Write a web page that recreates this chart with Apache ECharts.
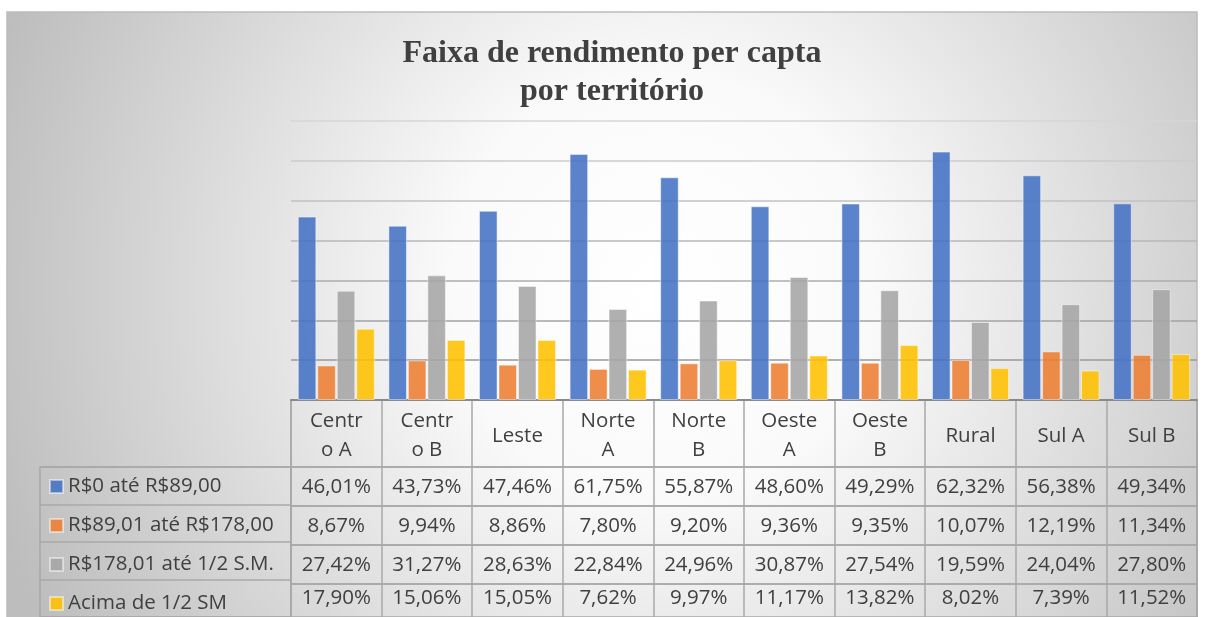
<!DOCTYPE html>
<html>
<head>
<meta charset="utf-8">
<script src="https://cdn.jsdelivr.net/npm/echarts@6/dist/echarts.min.js"></script>
<style>
html,body{margin:0;padding:0;background:#fff;}
#chart{width:1207px;height:617px;}
</style>
</head>
<body>
<div id="chart"></div>
<script>
const categories = ['Centro A','Centro B','Leste','Norte A','Norte B','Oeste A','Oeste B','Rural','Sul A','Sul B'];
const headerLabels = ['Centr\no A','Centr\no B','Leste','Norte\nA','Norte\nB','Oeste\nA','Oeste\nB','Rural','Sul A','Sul B'];
const seriesNames = ['R$0 até R$89,00','R$89,01 até R$178,00','R$178,01 até 1/2 S.M.','Acima de 1/2 SM'];
const faixa1 = [46.01,43.73,47.46,61.75,55.87,48.60,49.29,62.32,56.38,49.34];
const faixa2 = [8.67,9.94,8.86,7.80,9.20,9.36,9.35,10.07,12.19,11.34];
const faixa3 = [27.42,31.27,28.63,22.84,24.96,30.87,27.54,19.59,24.04,27.80];
const faixa4 = [17.90,15.06,15.05,7.62,9.97,11.17,13.82,8.02,7.39,11.52];
const yTicks = [0,10,20,30,40,50,60,70];

const allSeries = [faixa1, faixa2, faixa3, faixa4];
const colors = ['#4472C4','#ED7D31','#A5A5A5','#FFC000'];
const fmt = v => v.toFixed(2).replace('.', ',') + '%';

const FONT = 'Open Sans';
const FS = 20.5;
const TXT = '#404040';
const BORDER = '#a8a8a8';
const L = 291, W = 906;
const rowTop = 467, rowH = 39;

const grids = [
  {left: L, top: 121, width: W, height: 279},
  {left: L, top: 400, width: W, height: 67, show: true, borderColor: BORDER, borderWidth: 1.5, backgroundColor: 'transparent'}
];
for (let i = 0; i < 4; i++) {
  grids.push({left: L, top: rowTop + rowH * i, width: W, height: rowH, show: true, borderColor: BORDER, borderWidth: 1.5, backgroundColor: 'transparent'});
}
grids.push({left: 40, top: rowTop, width: 251, height: rowH * 4, show: true, borderColor: BORDER, borderWidth: 1.5, backgroundColor: 'transparent'});

const xAxes = [{
  type: 'category', gridIndex: 0, data: categories,
  axisLine: {show: true, lineStyle: {color: '#8a8a8a', width: 2}},
  axisTick: {show: false}, axisLabel: {show: false}
}, {
  type: 'category', gridIndex: 1, data: categories,
  axisLine: {show: false}, axisTick: {show: false},
  splitLine: {show: true, interval: 0, lineStyle: {color: BORDER, width: 1.5}},
  axisLabel: {interval: 0, margin: -31, verticalAlign: 'middle', fontFamily: FONT, fontSize: FS, color: TXT, lineHeight: 29,
    formatter: (v, i) => headerLabels[i]}
}];
for (let r = 0; r < 4; r++) {
  xAxes.push({
    type: 'category', gridIndex: 2 + r, data: categories,
    axisLine: {show: false}, axisTick: {show: false},
    splitLine: {show: true, interval: 0, lineStyle: {color: BORDER, width: 1.5}},
    axisLabel: {interval: 0, margin: -18.5, verticalAlign: 'middle', fontFamily: FONT, fontSize: FS, color: TXT,
      formatter: (v, i) => fmt(allSeries[r][i])}
  });
}
xAxes.push({type: 'value', gridIndex: 6, show: false});

const yAxes = [{
  type: 'value', gridIndex: 0, min: yTicks[0], max: yTicks[yTicks.length - 1], interval: 10,
  axisLabel: {show: false}, axisLine: {show: false}, axisTick: {show: false},
  splitLine: {show: true, lineStyle: {width: 1.5, color: {type: 'linear', x: 0, y: 121, x2: 0, y2: 400, global: true,
    colorStops: [{offset: 0, color: '#d6d6d6'}, {offset: 1, color: '#8e8e8e'}]}}}
}];
for (let g = 1; g <= 5; g++) yAxes.push({type: 'value', gridIndex: g, show: false});
yAxes.push({type: 'category', gridIndex: 6, data: seriesNames, inverse: true,
  axisLine: {show: false}, axisTick: {show: false}, axisLabel: {show: false},
  splitLine: {show: true, interval: 0, lineStyle: {color: BORDER, width: 1.5}}});

const series = allSeries.map((d, i) => ({
  name: seriesNames[i], type: 'bar', xAxisIndex: 0, yAxisIndex: 0, data: d,
  barGap: '5%', barCategoryGap: '15%',
  itemStyle: {color: colors[i], opacity: 0.88, borderColor: 'rgba(255,255,255,0.55)', borderWidth: 1},
  emphasis: {disabled: true}
}));

const chart = echarts.init(document.getElementById('chart'), null, {renderer: 'canvas'});
chart.setOption({
  animation: false,
  backgroundColor: '#ffffff',
  color: colors,
  title: {
    text: 'Faixa de rendimento per capta\npor território',
    left: 612, top: 35, textAlign: 'center', padding: 0,
    textStyle: {fontFamily: 'Liberation Serif', fontWeight: 'bold', fontSize: 32, lineHeight: 38, color: '#404040'}
  },
  legend: {
    orient: 'vertical', left: 49, top: 476, height: 160, padding: 0, itemGap: 18,
    itemWidth: 13, itemHeight: 13, icon: 'rect', selectedMode: false,
    textStyle: {fontFamily: FONT, fontSize: FS, color: TXT, lineHeight: 21},
    data: seriesNames
  },
  graphic: [{
    type: 'rect', z: -10, silent: true,
    shape: {x: 7, y: 12, width: 1190, height: 610},
    style: {
      fill: {type: 'radial', x: 0.55, y: 0.45, r: 1.15, colorStops: [
        {offset: 0, color: '#ffffff'}, {offset: 0.3, color: '#fafafa'}, {offset: 1, color: '#bdbdbd'}]},
      stroke: '#bcbcbc', lineWidth: 1.5
    }
  }],
  grid: grids,
  xAxis: xAxes,
  yAxis: yAxes,
  series: series
});
</script>
</body>
</html>
